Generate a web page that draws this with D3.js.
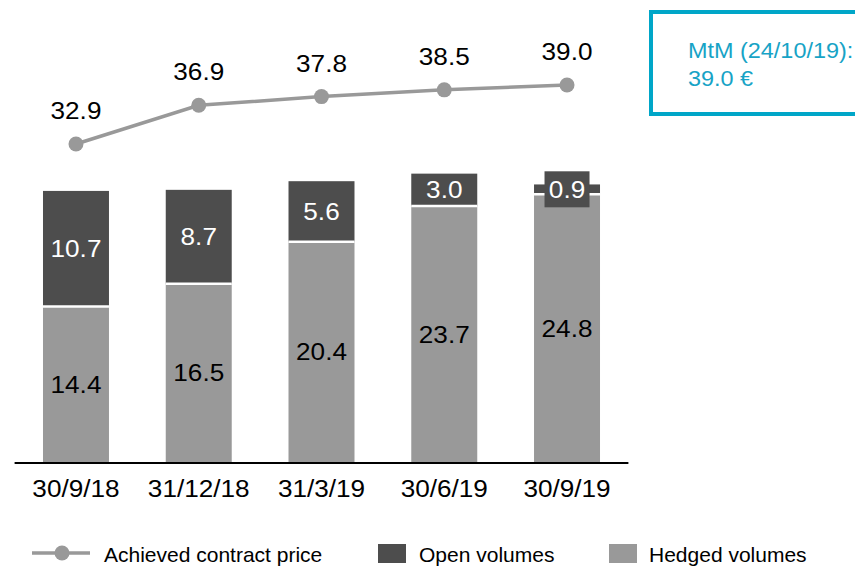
<!doctype html>
<html>
<head>
  <meta charset="utf-8">
  <title>Achieved contract price and volumes</title>
  <style>
  body { margin: 0; background: #fff; }
  svg { display: block; font-family: "Liberation Sans", Arial, sans-serif; }
  </style>
</head>
<body>
  <div id="vis"></div>

  <script src="https://d3js.org/d3.v7.min.js"></script>
  <script>
  // chart values
  var categories = ['30/9/18', '31/12/18', '31/3/19', '30/6/19', '30/9/19'];
  var hedged = [14.4, 16.5, 20.4, 23.7, 24.8];
  var open = [10.7, 8.7, 5.6, 3.0, 0.9];
  var price = [32.9, 36.9, 37.8, 38.5, 39.0];
  var mtmLines = ['MtM (24/10/19):', '39.0 €'];
  var legendItems = ['Achieved contract price', 'Open volumes', 'Hedged volumes'];

  var width = 855;
  var height = 567;
  var darkGrey = '#4d4d4d';
  var lightGrey = '#999999';
  var teal = '#00a6c8';
  var stretch = 1.09;

  var svg = d3.select('#vis')
    .append('svg')
    .attr('width', width)
    .attr('height', height);

  var x = d3.scaleBand()
    .domain(categories)
    .range([14.6, 628.4])
    .paddingInner(0.4625)
    .paddingOuter(0.23125);

  var yBar = d3.scaleLinear().domain([0, 40]).range([462, 30]);
  var yLine = d3.scaleLinear().domain([32.9, 39.0]).range([144, 85]);

  var rows = categories.map(function(c, i){
    return { cat: c, hedged: hedged[i], open: open[i], price: price[i] };
  });

  function label(g, txt, cx, cy, size, color){
    g.append('text')
      .attr('transform', 'translate(' + cx + ',' + cy + ') scale(' + stretch + ',1)')
      .attr('text-anchor', 'middle')
      .attr('font-size', size)
      .attr('fill', color)
      .text(txt);
  }

  // bars
  var bars = svg.append('g');
  rows.forEach(function(d){
    var x0 = x(d.cat), bw = x.bandwidth(), cx = x0 + bw / 2;
    var yh = yBar(d.hedged), yt = yBar(d.hedged + d.open);
    bars.append('rect')
      .attr('x', x0).attr('y', yh)
      .attr('width', bw).attr('height', yBar(0) - yh)
      .attr('fill', lightGrey);
    bars.append('rect')
      .attr('x', x0).attr('y', yt)
      .attr('width', bw).attr('height', yh - yt)
      .attr('fill', darkGrey);
    bars.append('line')
      .attr('x1', x0).attr('x2', x0 + bw)
      .attr('y1', yh).attr('y2', yh)
      .attr('stroke', '#fff').attr('stroke-width', 2.5);

    var openMid = (yh + yt) / 2;
    if(yh - yt < 25){
      bars.append('rect')
        .attr('x', cx - 22.5).attr('y', openMid - 18)
        .attr('width', 45).attr('height', 36)
        .attr('fill', darkGrey);
    }
    label(bars, d.open.toFixed(1), cx, openMid + 8.5, 24, '#fff');
    label(bars, d.hedged.toFixed(1), cx, (yh + yBar(0)) / 2 + 8.5, 24, '#000');
  });

  // axis line and category labels
  svg.append('line')
    .attr('x1', x.range()[0]).attr('x2', x.range()[1])
    .attr('y1', 463).attr('y2', 463)
    .attr('stroke', '#000').attr('stroke-width', 2);

  var axisG = svg.append('g');
  categories.forEach(function(c){
    label(axisG, c, x(c) + x.bandwidth() / 2, 497, 24, '#000');
  });

  // price line
  var line = d3.line()
    .x(function(d){ return x(d.cat) + x.bandwidth() / 2; })
    .y(function(d){ return yLine(d.price); });

  svg.append('path')
    .datum(rows)
    .attr('d', line)
    .attr('fill', 'none')
    .attr('stroke', lightGrey)
    .attr('stroke-width', 3.5);

  svg.selectAll('circle.pt').data(rows)
    .enter().append('circle')
      .attr('class', 'pt')
      .attr('cx', function(d){ return x(d.cat) + x.bandwidth() / 2; })
      .attr('cy', function(d){ return yLine(d.price); })
      .attr('r', 7.5)
      .attr('fill', lightGrey);

  var priceG = svg.append('g');
  rows.forEach(function(d){
    label(priceG, d.price.toFixed(1), x(d.cat) + x.bandwidth() / 2, yLine(d.price) - 25, 24, '#000');
  });

  // MtM box
  svg.append('rect')
    .attr('x', 651).attr('y', 12)
    .attr('width', 240).attr('height', 102)
    .attr('fill', 'none')
    .attr('stroke', teal)
    .attr('stroke-width', 4);

  mtmLines.forEach(function(t, i){
    svg.append('text')
      .attr('transform', 'translate(688,' + (58 + i * 28) + ') scale(' + stretch + ',1)')
      .attr('font-size', 21.5)
      .attr('fill', '#17a3c6')
      .text(t);
  });

  // legend
  var lg = svg.append('g');
  lg.append('line')
    .attr('x1', 32).attr('x2', 90).attr('y1', 553).attr('y2', 553)
    .attr('stroke', lightGrey).attr('stroke-width', 3.5);
  lg.append('circle').attr('cx', 62).attr('cy', 553).attr('r', 7.5).attr('fill', lightGrey);
  lg.append('rect').attr('x', 378).attr('y', 544).attr('width', 28).attr('height', 19).attr('fill', darkGrey);
  lg.append('rect').attr('x', 609).attr('y', 544).attr('width', 28).attr('height', 19).attr('fill', lightGrey);

  var legendX = [104, 419, 649];
  legendItems.forEach(function(t, i){
    lg.append('text')
      .attr('x', legendX[i]).attr('y', 562)
      .attr('font-size', 21)
      .attr('fill', '#000')
      .text(t);
  });
  </script>
</body>
</html>
